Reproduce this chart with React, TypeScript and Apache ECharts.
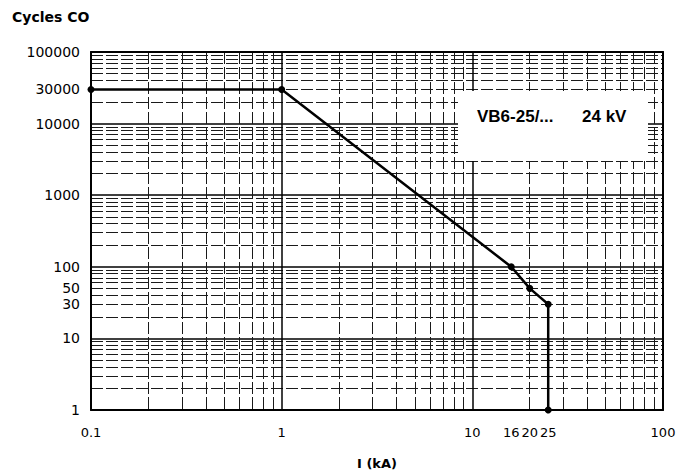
import React, { useEffect, useRef } from "react";
import * as echarts from "echarts";

// Data
const currentKA = [0.1, 1, 16, 20, 25, 25];
const cyclesCO = [30000, 30000, 100, 50, 30, 1];

// Tick labels
const xTickLabels = [0.1, 1, 10, 16, 20, 25, 100];
const yTickLabels = [1, 10, 30, 50, 100, 1000, 10000, 30000, 100000];

// Log grid decades
const xDecades = [0.1, 1, 10, 100];
const yDecades = [1, 10, 100, 1000, 10000, 100000];
const minorMultipliers = [2, 3, 4, 5, 6, 7, 8, 9];

const yTitle = "Cycles CO";
const xTitle = "I (kA)";
const boxLabelLeft = "VB6-25/...";
const boxLabelRight = "24 kV";

function minorValues(decades: number[]): number[] {
  const out: number[] = [];
  for (let i = 0; i < decades.length - 1; i++) {
    for (const m of minorMultipliers) out.push(decades[i] * m);
  }
  return out;
}

const fmt = (v: number) =>
  v < 1 ? String(Math.round(v * 10) / 10) : String(Math.round(v));

export default function App() {
  const ref = useRef<HTMLDivElement>(null);
  useEffect(() => {
    if (!ref.current) return;
    const chart = echarts.init(ref.current, null, { renderer: "svg" });
    const labelFont = "DejaVu Sans, sans-serif";
    const minorLine = {
      show: true,
      lineStyle: { color: "#1a1a1a", width: 1, type: [12, 3] as any },
    };
    const majorLine = {
      show: true,
      lineStyle: { color: "#000", width: 1.5, type: "solid" as const },
    };
    const xMin = xDecades[0];
    const xMax = xDecades[xDecades.length - 1];
    const yMin = yDecades[0];
    const yMax = yDecades[yDecades.length - 1];
    chart.setOption({
      animation: false,
      backgroundColor: "#fff",
      grid: {
        left: 91,
        right: 32,
        top: 52,
        bottom: 61,
        containLabel: false,
        outerBoundsMode: "none",
      },
      xAxis: [
        {
          type: "log",
          logBase: 10,
          min: xMin,
          max: xMax,
          position: "bottom",
          axisLine: { show: true, lineStyle: { color: "#000", width: 2 } },
          axisTick: { show: false, customValues: minorValues(xDecades) },
          axisLabel: {
            show: true,
            customValues: xTickLabels,
            formatter: fmt,
            color: "#000",
            fontSize: 13,
            fontFamily: labelFont,
            margin: 16,
          },
          splitLine: minorLine,
          name: xTitle,
          nameLocation: "middle",
          nameGap: 47,
          nameTextStyle: {
            color: "#000",
            fontSize: 13,
            fontWeight: "bold",
            fontFamily: labelFont,
          },
        },
        {
          type: "log",
          logBase: 10,
          min: xMin,
          max: xMax,
          position: "top",
          axisLine: { show: true, lineStyle: { color: "#000", width: 2 } },
          axisTick: { show: false, customValues: xDecades },
          axisLabel: { show: false },
          splitLine: majorLine,
        },
      ],
      yAxis: [
        {
          type: "log",
          logBase: 10,
          min: yMin,
          max: yMax,
          position: "left",
          axisLine: { show: true, lineStyle: { color: "#000", width: 2 } },
          axisTick: { show: false, customValues: minorValues(yDecades) },
          axisLabel: {
            show: true,
            customValues: yTickLabels,
            formatter: fmt,
            color: "#000",
            fontSize: 14,
            fontFamily: labelFont,
            margin: 11,
          },
          splitLine: minorLine,
        },
        {
          type: "log",
          logBase: 10,
          min: yMin,
          max: yMax,
          position: "right",
          axisLine: { show: true, lineStyle: { color: "#000", width: 2 } },
          axisTick: { show: false, customValues: yDecades },
          axisLabel: { show: false },
          splitLine: majorLine,
        },
      ],
      graphic: [
        {
          type: "text",
          left: 12,
          top: 10,
          style: {
            text: yTitle,
            fill: "#000",
            font: "bold 14px 'DejaVu Sans', sans-serif",
          },
        },
        {
          type: "rect",
          shape: { x: 458, y: 91, width: 190, height: 70 },
          style: { fill: "#fff" },
          z: 5,
        },
        {
          type: "text",
          x: 477,
          y: 116,
          style: {
            text: boxLabelLeft,
            fill: "#000",
            font: "bold 17px 'Liberation Sans', Arial, sans-serif",
            verticalAlign: "middle",
          },
          z: 6,
        },
        {
          type: "text",
          x: 582,
          y: 116,
          style: {
            text: boxLabelRight,
            fill: "#000",
            font: "bold 17px 'Liberation Sans', Arial, sans-serif",
            verticalAlign: "middle",
          },
          z: 6,
        },
      ],
      series: [
        {
          type: "line",
          xAxisIndex: 0,
          yAxisIndex: 0,
          data: currentKA.map((x, i) => [x, cyclesCO[i]]),
          symbol: "circle",
          symbolSize: 7,
          showSymbol: true,
          clip: false,
          lineStyle: { color: "#000", width: 2.5 },
          itemStyle: { color: "#000" },
          z: 10,
        },
      ],
    });
    return () => chart.dispose();
  }, []);
  return (
    <div
      ref={ref}
      style={{ position: "fixed", left: 0, top: 0, width: 695, height: 471, background: "#fff" }}
    />
  );
}
